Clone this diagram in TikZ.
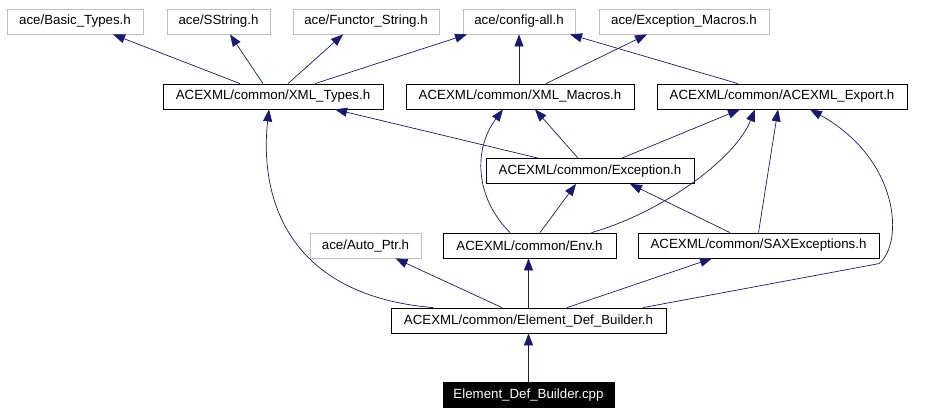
\documentclass[tikz,border=0pt]{standalone}
\usepackage{fontspec}
\setmainfont{Liberation Sans}
\usetikzlibrary{arrows.meta}
\definecolor{incblue}{HTML}{191970}
\definecolor{extgray}{HTML}{BFBFBF}

\begin{document}
\begin{tikzpicture}[x=1pt, y=-1pt,
  file/.style={draw=black, line width=0.8pt, minimum height=25pt, inner sep=0pt,
    font=\fontsize{13.3}{15}\selectfont},
  ext/.style={file, draw=extgray},
  main/.style={file, fill=black, text=white},
  inc/.style={draw=incblue, line width=0.7pt, -{Triangle[length=12pt,width=9pt]}}]
 \useasboundingbox (0,0) rectangle (936,415);
 \node[ext, minimum width=136pt] (basic)     at (75,21.5)  {ace/Basic\_Types.h};
 \node[ext, minimum width=103pt] (sstring)   at (218.5,21.5) {ace/SString.h};
 \node[ext, minimum width=146pt] (functor)   at (366,21.5) {ace/Functor\_String.h};
 \node[ext, minimum width=112pt] (configall) at (519,21.5) {ace/config-all.h};
 \node[ext, minimum width=170pt] (excmacros) at (684,21.5) {ace/Exception\_Macros.h};
 \node[file, minimum width=220pt] (xmltypes)  at (273,96.5) {ACEXML/common/XML\_Types.h};
 \node[file, minimum width=228pt] (xmlmacros) at (520,96.5) {ACEXML/common/XML\_Macros.h};
 \node[file, minimum width=250pt] (export)    at (782,96.5) {ACEXML/common/ACEXML\_Export.h};
 \node[file, minimum width=208pt] (exception) at (590,171)  {ACEXML/common/Exception.h};
 \node[ext, minimum width=111pt] (autoptr)   at (365.5,245.5) {ace/Auto\_Ptr.h};
 \node[file, minimum width=173pt] (env)       at (529.5,245.5) {ACEXML/common/Env.h};
 \node[file, minimum width=241pt] (sax)       at (758.5,245.5) {ACEXML/common/SAXExceptions.h};
 \node[file, minimum width=275pt] (edb)       at (528.5,320.5) {ACEXML/common/Element\_Def\_Builder.h};
 \node[main, minimum width=171pt] (cpp)       at (528.5,395) {Element\_Def\_Builder.cpp};

 \draw[inc] ([xshift=-33pt]xmltypes.north) -- ([xshift=38pt]basic.south);
 \draw[inc] ([xshift=-10pt]xmltypes.north) -- ([xshift=11.5pt]sstring.south);
 \draw[inc] ([xshift=15pt]xmltypes.north) -- ([xshift=-23pt]functor.south);
 \draw[inc] ([xshift=42pt]xmltypes.north) -- ([xshift=-52pt]configall.south);
 \draw[inc] ([xshift=-1pt]xmlmacros.north) -- (configall.south);
 \draw[inc] ([xshift=26pt]xmlmacros.north) -- ([xshift=-37pt]excmacros.south);
 \draw[inc] ([xshift=-44pt]export.north) -- ([xshift=51pt]configall.south);
 \draw[inc] ([xshift=-52pt]exception.north) -- ([xshift=62pt]xmltypes.south);
 \draw[inc] ([xshift=-12pt]exception.north) -- ([xshift=15pt]xmlmacros.south);
 \draw[inc] ([xshift=32pt]exception.north) -- ([xshift=-42pt]export.south);
 \draw[inc] ([xshift=-19.5pt]env.north) .. controls +(-35,-35) and +(-30,40) .. ([xshift=-17pt]xmlmacros.south);
 \draw[inc] ([xshift=10.5pt]env.north) -- ([xshift=-14pt]exception.south);
 \draw[inc] ([xshift=62pt]env.north) .. controls +(70,-20) and +(-20,50) .. ([xshift=-27pt]export.south);
 \draw[inc] ([xshift=-28.5pt]sax.north) -- ([xshift=40pt]exception.south);
 \draw[inc] (sax.north) -- ([xshift=-4pt]export.south);
 \draw[inc] ([xshift=-95.5pt]edb.north) .. controls +(-153,-13) and +(-9,79) .. ([xshift=-4pt]xmltypes.south);
 \draw[inc] ([xshift=-26.5pt]edb.north) -- ([xshift=30pt]autoptr.south);
 \draw[inc] (edb.north) -- (edb.north |- env.south);
 \draw[inc] ([xshift=38.5pt]edb.north) -- ([xshift=-46.5pt]sax.south);
 \draw[inc] ([xshift=114.5pt]edb.north) -- ++(236,-44) .. controls +(25,-20) and +(90,50) .. ([xshift=28pt]export.south);
 \draw[inc] (cpp.north) -- (edb.south);
\end{tikzpicture}
\end{document}
